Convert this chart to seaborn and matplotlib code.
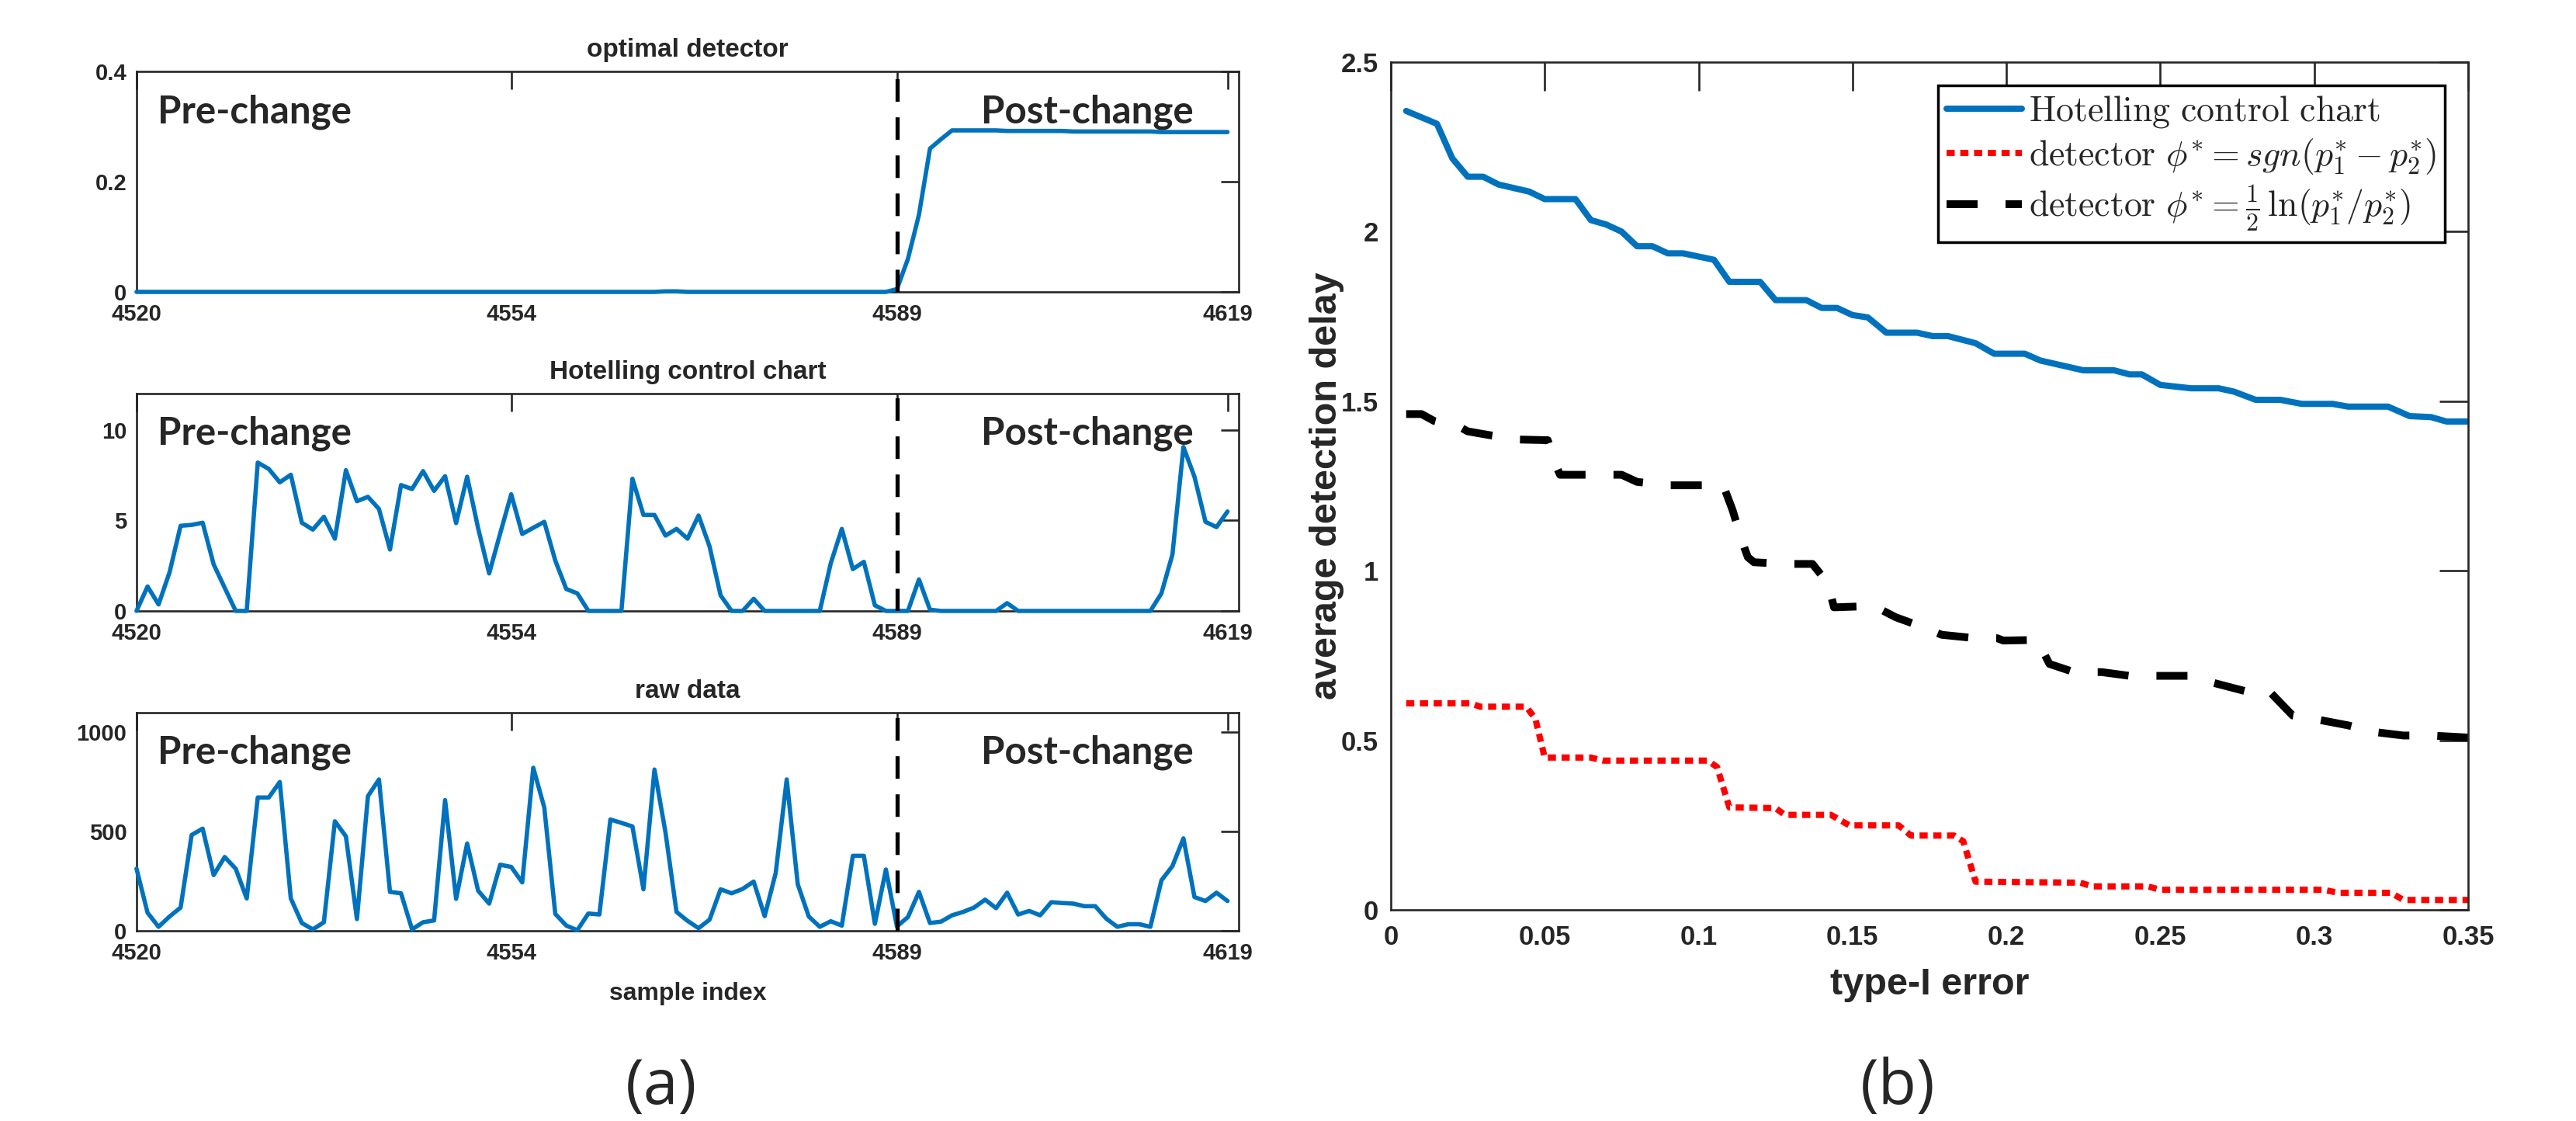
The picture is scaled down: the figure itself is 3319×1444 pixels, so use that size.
import numpy as np
import matplotlib
matplotlib.use("Agg")
import matplotlib.pyplot as plt
import seaborn as sns


# ---- panel (a): monitoring statistics around the change point ----

sample_idx = np.arange(4520, 4620)
change_point = 4589
idx_ticks = [4520, 4554, 4589, 4619]

opt_detector = [
    0.0, 0.0, 0.0, 0.0, 0.0, 0.0, 0.0, 0.0, 0.0, 0.0,
    0.0, 0.0, 0.0, 0.0, 0.0, 0.0, 0.0, 0.0, 0.0, 0.0,
    0.0, 0.0, 0.0, 0.0, 0.0, 0.0, 0.0, 0.0, 0.0, 0.0,
    0.0, 0.0, 0.0, 0.0, 0.0, 0.0, 0.0, 0.0, 0.0, 0.0,
    0.0, 0.0, 0.0, 0.0, 0.0, 0.0, 0.0, 0.0, 0.001, 0.001,
    0.0, 0.0, 0.0, 0.0, 0.0, 0.0, 0.0, 0.0, 0.0, 0.0,
    0.0, 0.0, 0.0, 0.0, 0.0, 0.0, 0.0, 0.0, 0.0, 0.005,
    0.06, 0.14, 0.26, 0.277, 0.293, 0.293, 0.293, 0.293, 0.293, 0.292,
    0.292, 0.292, 0.292, 0.292, 0.292, 0.291, 0.291, 0.291, 0.291, 0.291,
    0.291, 0.291, 0.291, 0.290, 0.290, 0.290, 0.290, 0.290, 0.290, 0.290,
]

hotelling_stat = [
    0.0, 1.35, 0.36, 2.14, 4.70, 4.75, 4.87, 2.57, 1.28, 0.0,
    0.0, 8.19, 7.84, 7.10, 7.52, 4.87, 4.49, 5.20, 3.99, 7.77,
    6.06, 6.30, 5.63, 3.39, 6.95, 6.73, 7.72, 6.63, 7.44, 4.85,
    7.41, 4.56, 2.07, 4.28, 6.44, 4.25, 4.59, 4.92, 2.78, 1.21,
    0.97, 0.0, 0.0, 0.0, 0.0, 7.30, 5.30, 5.30, 4.16, 4.53,
    3.99, 5.27, 3.56, 0.86, 0.0, 0.0, 0.67, 0.0, 0.0, 0.0,
    0.0, 0.0, 0.0, 2.64, 4.53, 2.31, 2.71, 0.31, 0.0, 0.0,
    0.0, 1.74, 0.07, 0.0, 0.0, 0.0, 0.0, 0.0, 0.0, 0.43,
    0.0, 0.0, 0.0, 0.0, 0.0, 0.0, 0.0, 0.0, 0.0, 0.0,
    0.0, 0.0, 0.0, 0.97, 3.11, 9.05, 7.41, 4.92, 4.63, 5.49,
]

raw_data = [
    313, 91, 20, 72, 117, 483, 515, 281, 372, 313,
    163, 672, 672, 750, 163, 39, 7, 43, 552, 476,
    59, 679, 763, 196, 189, 7, 43, 52, 659, 161,
    440, 202, 137, 333, 322, 244, 822, 622, 85, 26,
    3, 87, 82, 561, 544, 526, 209, 813, 496, 95,
    50, 13, 56, 209, 189, 211, 248, 74, 291, 763,
    235, 72, 20, 48, 26, 378, 378, 35, 309, 22,
    69, 196, 39, 46, 78, 95, 117, 157, 114, 192,
    82, 100, 78, 144, 140, 137, 124, 124, 61, 20,
    33, 33, 20, 254, 326, 466, 170, 150, 192, 150,
]

panel_titles = ["optimal detector", "Hotelling control chart", "raw data"]
panel_ylims = [(0, 0.4), (0, 12), (0, 1100)]
panel_yticks = [[0, 0.2, 0.4], [0, 5, 10], [0, 500, 1000]]
panel_yticklabels = [["0", "0.2", "0.4"], ["0", "5", "10"], ["0", "500", "1000"]]

# ---- panel (b): detection delay vs type-I error ----

hot_err = [0.005, 0.015, 0.020, 0.025, 0.030, 0.035, 0.045, 0.050, 0.060, 0.065,
           0.070, 0.075, 0.080, 0.085, 0.090, 0.095, 0.105, 0.110, 0.120, 0.125,
           0.135, 0.140, 0.145, 0.150, 0.155, 0.161, 0.171, 0.176, 0.181, 0.190,
           0.196, 0.206, 0.211, 0.225, 0.235, 0.240, 0.244, 0.250, 0.260, 0.269,
           0.274, 0.281, 0.289, 0.296, 0.306, 0.311, 0.324, 0.331, 0.338, 0.343,
           0.350]
hot_delay = [2.356, 2.318, 2.216, 2.162, 2.162, 2.139, 2.118, 2.096, 2.096, 2.034,
             2.021, 2.000, 1.957, 1.957, 1.936, 1.936, 1.917, 1.852, 1.852, 1.798,
             1.798, 1.775, 1.775, 1.754, 1.747, 1.702, 1.702, 1.692, 1.692, 1.671,
             1.640, 1.640, 1.620, 1.591, 1.591, 1.579, 1.579, 1.548, 1.538, 1.538,
             1.528, 1.504, 1.504, 1.492, 1.492, 1.484, 1.484, 1.456, 1.453, 1.440,
             1.440]

sgn_err = [0.005, 0.026, 0.029, 0.044, 0.047, 0.050, 0.065, 0.069, 0.103, 0.106,
           0.110, 0.125, 0.128, 0.143, 0.149, 0.165, 0.169, 0.183, 0.186, 0.190,
           0.224, 0.228, 0.246, 0.250, 0.303, 0.308, 0.325, 0.329, 0.350]
sgn_delay = [0.609, 0.609, 0.599, 0.599, 0.563, 0.449, 0.449, 0.440, 0.440, 0.421,
             0.302, 0.300, 0.280, 0.280, 0.249, 0.249, 0.219, 0.219, 0.202, 0.083,
             0.080, 0.069, 0.069, 0.059, 0.059, 0.050, 0.050, 0.029, 0.029]

ln_err = [0.005, 0.010, 0.014, 0.023, 0.025, 0.032, 0.041, 0.051, 0.054, 0.055,
          0.062, 0.075, 0.080, 0.090, 0.099, 0.108, 0.111, 0.114, 0.116, 0.118,
          0.128, 0.137, 0.142, 0.144, 0.157, 0.164, 0.174, 0.179, 0.190, 0.197,
          0.199, 0.210, 0.214, 0.222, 0.231, 0.240, 0.250, 0.260, 0.267, 0.278,
          0.285, 0.286, 0.293, 0.300, 0.311, 0.319, 0.329, 0.338, 0.350]
ln_delay = [1.462, 1.462, 1.442, 1.421, 1.411, 1.400, 1.387, 1.385, 1.303, 1.283,
            1.283, 1.283, 1.262, 1.252, 1.252, 1.252, 1.180, 1.090, 1.040, 1.025,
            1.020, 1.020, 0.963, 0.892, 0.896, 0.863, 0.830, 0.811, 0.801, 0.801,
            0.794, 0.796, 0.725, 0.701, 0.701, 0.690, 0.690, 0.690, 0.670, 0.644,
            0.644, 0.639, 0.573, 0.563, 0.544, 0.525, 0.514, 0.514, 0.508]

err_ticks = [0, 0.05, 0.1, 0.15, 0.2, 0.25, 0.3, 0.35]
err_ticklabels = ["0", "0.05", "0.1", "0.15", "0.2", "0.25", "0.3", "0.35"]
delay_ticks = [0, 0.5, 1, 1.5, 2, 2.5]
delay_ticklabels = ["0", "0.5", "1", "1.5", "2", "2.5"]

legend_labels = [
    r"$\mathrm{Hotelling\ control\ chart}$",
    r"$\mathrm{detector}\ \phi^{*} = sgn(p_1^{*} - p_2^{*})$",
    r"$\mathrm{detector}\ \phi^{*} = \frac{1}{2}\,\ln(p_1^{*}/p_2^{*})$",
]

MBLUE = "#0072BD"
DARK = "#262626"

sns.set_style("white")
plt.rcParams["font.family"] = ["Liberation Sans", "DejaVu Sans"]
plt.rcParams["font.weight"] = "bold"
plt.rcParams["mathtext.fontset"] = "cm"
plt.rcParams["axes.linewidth"] = 1.9
plt.rcParams["axes.edgecolor"] = DARK

fig = plt.figure(figsize=(33.19, 14.44), dpi=100)

# left column: three stacked panels
left_boxes = [
    [0.0530, 0.7396, 0.4278, 0.1967],
    [0.0530, 0.4550, 0.4278, 0.1939],
    [0.0530, 0.1697, 0.4278, 0.1946],
]
left_series = [opt_detector, hotelling_stat, raw_data]

for k in range(3):
    ax = fig.add_axes(left_boxes[k])
    sns.lineplot(x=sample_idx, y=left_series[k], ax=ax, color=MBLUE, lw=4.0,
                 estimator=None, sort=False, clip_on=False, zorder=3)
    ax.axvline(change_point, color="black", lw=3.8, linestyle=(0, (5.5, 3.8)), zorder=4)
    ax.set_xlim(4520, 4620)
    ax.set_ylim(*panel_ylims[k])
    ax.set_xticks(idx_ticks)
    ax.set_xticklabels([str(t) for t in idx_ticks])
    ax.set_yticks(panel_yticks[k])
    ax.set_yticklabels(panel_yticklabels[k])
    ax.tick_params(axis="both", direction="in", length=16.5, width=1.9, color=DARK,
                   top=True, right=True, labelsize=21, labelcolor=DARK)
    ax.tick_params(axis="x", pad=11)
    ax.tick_params(axis="y", pad=9)
    for sp in ax.spines.values():
        sp.set_visible(True)
    ax.set_title(panel_titles[k], fontsize=24, fontweight="bold", pad=14)
    ax.text(0.019, 0.765, "Pre-change", transform=ax.transAxes, fontsize=35.5,
            family=["Lato", "DejaVu Sans"], fontweight="bold", va="baseline")
    ax.text(0.766, 0.765, "Post-change", transform=ax.transAxes, fontsize=35.5,
            family=["Lato", "DejaVu Sans"], fontweight="bold", va="baseline")
    ax.set_xlabel("")
    ax.set_ylabel("")
    if k == 2:
        ax.set_xlabel("sample index", fontsize=23, fontweight="bold")
        ax.xaxis.set_label_coords(0.5, -0.235)

# right panel
axr = fig.add_axes([0.5399, 0.1884, 0.4182, 0.7562])
sns.lineplot(x=hot_err, y=hot_delay, ax=axr, color=MBLUE, lw=5.8,
             estimator=None, sort=False, label=legend_labels[0])
sns.lineplot(x=sgn_err, y=sgn_delay, ax=axr, color="#FF0000", lw=5.8,
             linestyle=(0, (1.3, 0.9)), estimator=None, sort=False, label=legend_labels[1])
sns.lineplot(x=ln_err, y=ln_delay, ax=axr, color="black", lw=7.2,
             linestyle=(0, (4, 3.6)), estimator=None, sort=False, label=legend_labels[2])
for ln in axr.get_lines():
    ln.set_dash_capstyle("butt")

axr.set_xlim(0, 0.35)
axr.set_ylim(0, 2.5)
axr.set_xticks(err_ticks)
axr.set_xticklabels(err_ticklabels)
axr.set_yticks(delay_ticks)
axr.set_yticklabels(delay_ticklabels)
axr.tick_params(axis="both", direction="in", length=26.5, width=1.9, color=DARK,
                top=True, right=True, labelsize=25, labelcolor=DARK)
axr.tick_params(axis="x", pad=14)
axr.tick_params(axis="y", pad=11.5)
for sp in axr.spines.values():
    sp.set_visible(True)

axr.set_xlabel("type-I error", fontsize=35, fontweight="bold")
axr.xaxis.set_label_coords(0.5, -0.068)
axr.set_ylabel("average detection delay", fontsize=35, fontweight="bold")
axr.yaxis.set_label_coords(-0.043, 0.5)

leg = axr.legend(loc="upper right", fontsize=33, frameon=True, fancybox=False,
                 framealpha=1, edgecolor="black", borderaxespad=0.65,
                 handlelength=2.1, handletextpad=0.2, borderpad=0.25,
                 labelspacing=0.2)
leg.get_frame().set_linewidth(2.5)

fig.text(852 / 3319, 1 - 1422 / 1444, "(a)", ha="center", va="baseline",
         fontsize=58, family=["Open Sans", "DejaVu Sans"], fontweight="normal")
fig.text(2445 / 3319, 1 - 1422 / 1444, "(b)", ha="center", va="baseline",
         fontsize=58, family=["Open Sans", "DejaVu Sans"], fontweight="normal")

fig.savefig("out.png", dpi=100)
